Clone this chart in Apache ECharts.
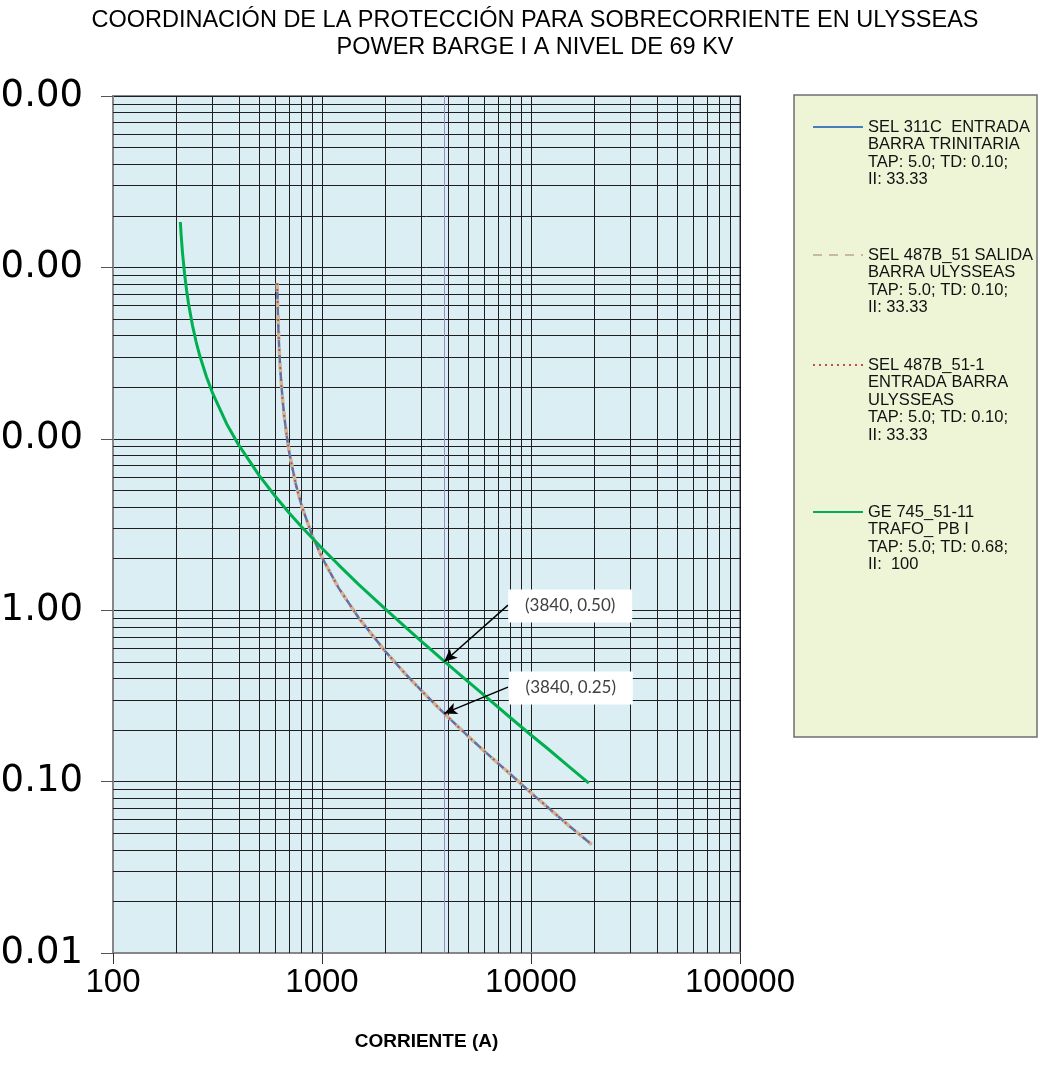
<!DOCTYPE html>
<html>
<head>
<meta charset="utf-8">
<script src="https://cdn.jsdelivr.net/npm/echarts@6/dist/echarts.min.js"></script>
<style>
html,body{margin:0;padding:0;background:#fff;}
#chart{width:1040px;height:1080px;}
</style>
</head>
<body>
<div id="chart"></div>
<script>
// ---- data ----
const relayCurrent = [610, 612, 615, 620, 625, 630, 640, 650, 660, 680, 700, 750, 800, 900, 1000, 1200, 1500, 2000, 2500, 3000, 3840, 5000, 6000, 8000, 10000, 12000, 15000, 19500];
const relayTime    = [81.0, 67.5, 54.0, 40.5, 32.4, 27.0, 20.3, 16.2, 13.5, 10.1, 8.10, 5.40, 4.05, 2.70, 2.03, 1.35, 0.90, 0.579, 0.426, 0.338, 0.25, 0.184, 0.150, 0.110, 0.086, 0.071, 0.056, 0.043];
const geCurrent = [210, 212, 215, 220, 225, 230, 240, 250, 260, 280, 300, 350, 400, 500, 600, 700, 800, 1000, 1200, 1500, 2000, 2500, 3000, 3840, 5000, 6000, 8000, 10000, 12000, 15000, 18900];
const geTime    = [184, 153, 122, 91.8, 73.4, 61.2, 45.9, 36.7, 30.6, 23.0, 18.4, 12.2, 9.18, 6.12, 4.59, 3.67, 3.06, 2.30, 1.84, 1.41, 1.02, 0.80, 0.656, 0.504, 0.383, 0.317, 0.235, 0.187, 0.156, 0.124, 0.098];
const seriesNames = [
  'SEL 311C  ENTRADA\nBARRA TRINITARIA\nTAP: 5.0; TD: 0.10;\nII: 33.33',
  'SEL 487B_51 SALIDA\nBARRA ULYSSEAS\nTAP: 5.0; TD: 0.10;\nII: 33.33',
  'SEL 487B_51-1\nENTRADA BARRA\nULYSSEAS\nTAP: 5.0; TD: 0.10;\nII: 33.33',
  'GE 745_51-11\nTRAFO_ PB I\nTAP: 5.0; TD: 0.68;\nII:  100'
];
const annotCurrent = 3840;
const annotTimes = [0.50, 0.25];
const xMinor = [200,300,400,500,600,700,800,900,2000,3000,4000,5000,6000,7000,8000,9000,20000,30000,40000,50000,60000,70000,80000,90000];
const yMinor = [0.02,0.03,0.04,0.05,0.06,0.07,0.08,0.09,0.2,0.3,0.4,0.5,0.6,0.7,0.8,0.9,2,3,4,5,6,7,8,9,20,30,40,50,60,70,80,90,200,300,400,500,600,700,800,900];
const titleLines = ['COORDINACIÓN DE LA PROTECCIÓN PARA SOBRECORRIENTE EN ULYSSEAS', 'POWER BARGE I A NIVEL DE 69 KV'];
const xName = 'CORRIENTE (A)';

// ---- build ----
const relayData = relayCurrent.map((c, i) => [c, relayTime[i]]);
const geData = geCurrent.map((c, i) => [c, geTime[i]]);

const chart = echarts.init(document.getElementById('chart'), null, {renderer: 'canvas'});

const legendIconY = [127, 255, 365, 512];
const lh = 17.5;
const legends = seriesNames.map((n, i) => {
  const lines = n.split('\n').length;
  const blanks = lines - 1;
  const total = lines + blanks;
  return {
    data: [n],
    orient: 'vertical',
    left: 812,
    top: legendIconY[i] - total * lh / 2,
    padding: 0,
    itemWidth: 50,
    itemHeight: 14,
    selectedMode: false,
    itemStyle: {color: 'rgba(0,0,0,0)', borderColor: 'rgba(0,0,0,0)', borderWidth: 0, opacity: 0},
    formatter: nm => '\n'.repeat(blanks) + nm,
    textStyle: {fontFamily: 'Liberation Sans', fontSize: 16.5, lineHeight: lh, color: '#111'}
  };
});

const gridLineData = xMinor.map(v => ({xAxis: v})).concat(yMinor.map(v => ({yAxis: v})));

const option = {
  animation: false,
  backgroundColor: '#fff',
  title: {
    text: titleLines.join('\n'),
    left: 530,
    textAlign: 'center',
    top: 2,
    textStyle: {fontFamily: 'Liberation Sans', fontSize: 23.5, fontWeight: 'normal', color: '#000', lineHeight: 27}
  },
  graphic: [{
    type: 'rect', z: 0,
    shape: {x: 794, y: 95, width: 243, height: 642},
    style: {fill: '#eef5d7', stroke: '#6f6f6f', lineWidth: 1.5}
  }],
  legend: legends,
  grid: {
    left: 113, right: 300, top: 96, bottom: 127,
    containLabel: false, outerBoundsMode: 'none',
    show: true, backgroundColor: '#dbeef4', borderColor: '#878787', borderWidth: 2
  },
  xAxis: {
    type: 'log', logBase: 10, min: 100, max: 100000,
    name: xName, nameLocation: 'middle', nameGap: 79,
    nameTextStyle: {fontFamily: 'Liberation Sans', fontSize: 19, fontWeight: 'bold', color: '#000'},
    axisLine: {lineStyle: {color: '#878787', width: 2}},
    axisTick: {show: true, length: 11, lineStyle: {color: '#333', width: 1}},
    axisLabel: {fontFamily: 'Liberation Sans', fontSize: 33, color: '#000', margin: 13, formatter: v => String(Math.round(v))},
    splitLine: {show: true, lineStyle: {color: '#1e1e1e', width: 1}}
  },
  yAxis: {
    type: 'log', logBase: 10, min: 0.01, max: 1000,
    axisLine: {show: true, lineStyle: {color: '#878787', width: 2}},
    axisTick: {show: true, length: 12, lineStyle: {color: '#555', width: 1}},
    axisLabel: {fontFamily: 'DejaVu Sans', fontSize: 37, color: '#000', margin: 30, formatter: v => Number(v).toFixed(2)},
    splitLine: {show: true, lineStyle: {color: '#1e1e1e', width: 1}}
  },
  series: [
    {
      name: 'grid-minor', type: 'line', data: [], silent: true,
      markLine: {
        silent: true, z: 1, symbol: 'none', animation: false,
        label: {show: false}, emphasis: {disabled: true},
        lineStyle: {color: '#1e1e1e', width: 1, type: 'solid'},
        data: gridLineData
      }
    },
    {
      name: seriesNames[0], type: 'line', data: relayData, symbol: 'none', z: 3,
      lineStyle: {color: '#4a7ebb', width: 2.5, type: 'solid'}, itemStyle: {color: '#4a7ebb'}
    },
    {
      name: seriesNames[1], type: 'line', data: relayData, symbol: 'none', z: 4,
      lineStyle: {color: '#c7b99f', width: 3.5, type: [9, 7]}, itemStyle: {color: '#c7b99f'}
    },
    {
      name: seriesNames[2], type: 'line', data: relayData, symbol: 'none', z: 5,
      lineStyle: {color: '#c0504d', width: 2, type: [2, 4]}, itemStyle: {color: '#c0504d'}
    },
    {
      name: seriesNames[3], type: 'line', data: geData, symbol: 'none', z: 5,
      lineStyle: {color: '#00b050', width: 3}, itemStyle: {color: '#00b050'},
      markLine: {
        silent: true, z: 2, symbol: 'none', label: {show: false}, emphasis: {disabled: true},
        lineStyle: {color: '#9a88c8', width: 1, type: 'solid'},
        data: [{xAxis: annotCurrent}]
      }
    },
    {
      name: 'annotations', type: 'line', data: [], silent: true,
      markLine: {
        silent: true, z: 10, symbol: ['none', 'arrow'], symbolSize: [9, 13],
        label: {show: false}, emphasis: {disabled: true},
        lineStyle: {color: '#000', width: 1.5, type: 'solid'},
        data: [
          [{coord: [7760, 1.07]}, {coord: [annotCurrent, annotTimes[0]]}],
          [{coord: [7760, 0.356]}, {coord: [annotCurrent, annotTimes[1]]}]
        ]
      },
      markPoint: {
        silent: true, z: 10, symbol: 'rect', symbolSize: [124, 33],
        itemStyle: {color: '#ffffff'},
        label: {show: true, position: 'inside', color: '#404040', fontSize: 17, fontFamily: 'Lato'},
        data: [
          {coord: [15400, 1.058], label: {formatter: '(' + annotCurrent + ', ' + annotTimes[0].toFixed(2) + ')'}},
          {coord: [15500, 0.352], label: {formatter: '(' + annotCurrent + ', ' + annotTimes[1].toFixed(2) + ')'}}
        ]
      }
    }
  ]
};
chart.setOption(option);
</script>
</body>
</html>
